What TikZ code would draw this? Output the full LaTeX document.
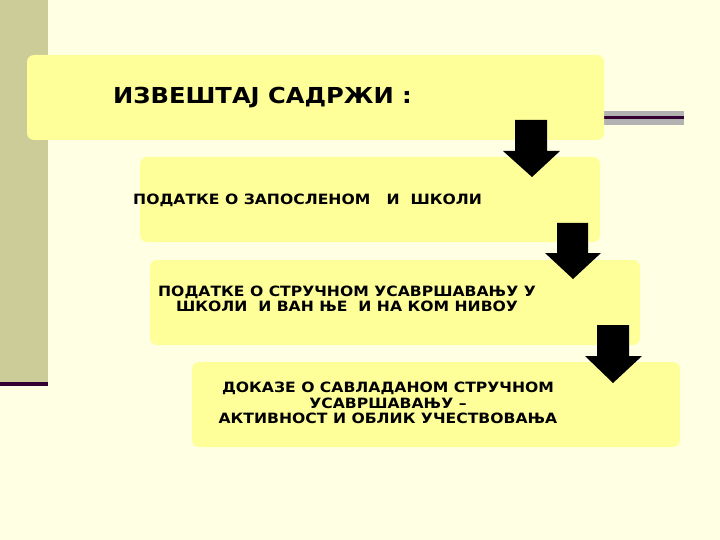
\documentclass[tikz,border=0pt]{standalone}
\usepackage{fontspec}
\setmainfont{Liberation Sans}
\newfontfamily\widef[FakeStretch=1.1]{DejaVu Sans}
\begin{document}
\begin{tikzpicture}[x=1pt,y=-1pt,
  ybox/.style={fill=boxy,rounded corners=7pt,draw=none},
  txt/.style={font=\widef\bfseries\fontsize{14.2}{15.5}\selectfont,align=center,inner sep=0pt},
  barrow/.style={fill=black}]
\definecolor{bg}{HTML}{FFFFE3}
\definecolor{boxy}{HTML}{FFFF99}
\definecolor{band}{HTML}{CCCC99}
\definecolor{purp}{HTML}{330033}
\fill[bg] (0,0) rectangle (720,540);
\useasboundingbox (0,0) rectangle (720,540);
\fill[band] (0,0) rectangle (48,382);
\fill[purp] (0,382) rectangle (48,386);
\fill[gray!60] (604,111) rectangle (684,125);
\fill[purp] (604,116) rectangle (684,119);
\fill[ybox] (27,55) rectangle (604,140);
\fill[ybox] (140,157) rectangle (600,242);
\fill[ybox] (150,260) rectangle (640,345);
\fill[ybox] (192,362) rectangle (680,447);
\node[txt,font=\widef\bfseries\fontsize{22}{26}\selectfont,anchor=west] (t1) at (113,98) {ИЗВЕШТАЈ САДРЖИ :};
\node[txt,anchor=west] (t2) at (133,200) {ПОДАТКЕ О ЗАПОСЛЕНОМ \ \ И \ ШКОЛИ};
\node[txt] (t3) at (347,299) {ПОДАТКЕ О СТРУЧНОМ УСАВРШАВАЊУ У\\ШКОЛИ \ И ВАН ЊЕ \ И НА КОМ НИВОУ};
\node[txt] (t4) at (388,403) {ДОКАЗЕ О САВЛАДАНОМ СТРУЧНОМ\\УСАВРШАВАЊУ –\\АКТИВНОСТ И ОБЛИК УЧЕСТВОВАЊА};
\fill[barrow] (515,120) -- (547,120) -- (547,151) -- (560,151) -- (532,177) -- (503,151) -- (515,151) -- cycle;
\fill[barrow] (557,223) -- (588,223) -- (588,253) -- (601,253) -- (573,279) -- (545,253) -- (557,253) -- cycle;
\fill[barrow] (597,325) -- (629,325) -- (629,356) -- (642,356) -- (613,383) -- (585,356) -- (597,356) -- cycle;
\end{tikzpicture}
\end{document}
